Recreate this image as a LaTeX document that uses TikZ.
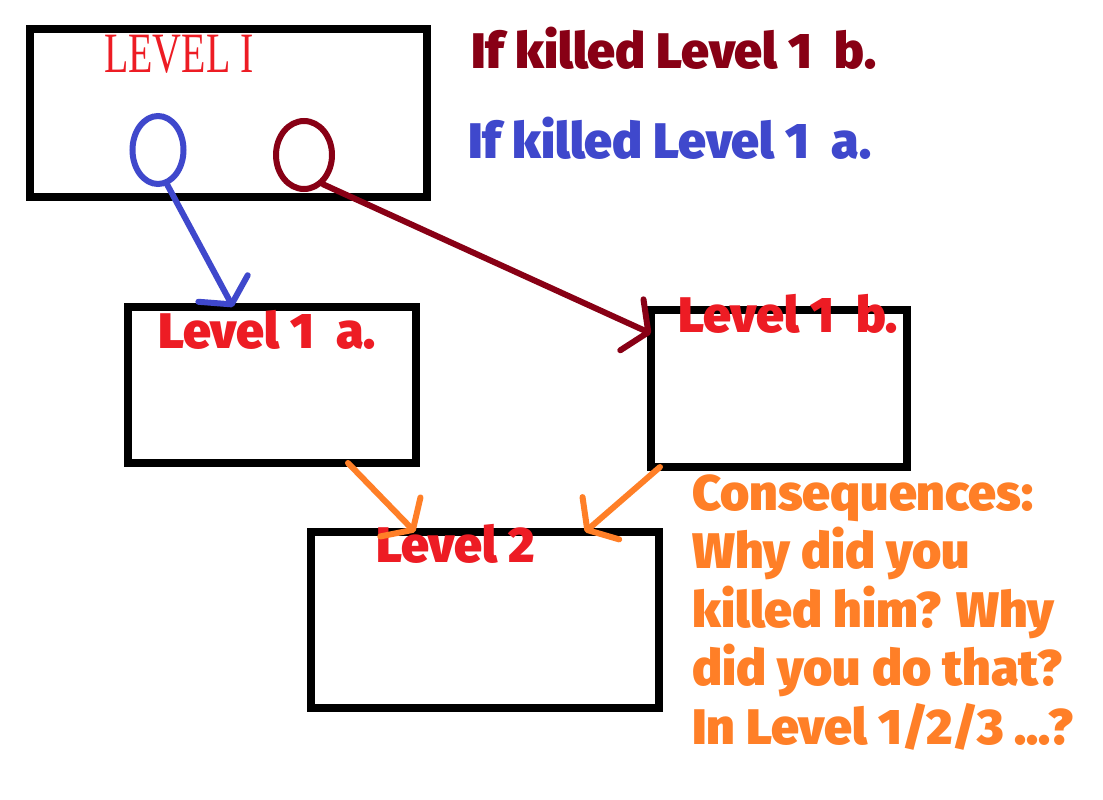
\documentclass[tikz,border=0pt]{standalone}
\usepackage{fontspec}
\setmainfont{Fira Sans}
\newfontfamily\heavy{Fira Sans Black}
\newfontfamily\thinserif{Liberation Serif}
\usetikzlibrary{shapes.geometric,arrows.meta}
\definecolor{paintred}{HTML}{ED1C24}
\definecolor{darkred}{HTML}{880015}
\definecolor{indigo}{HTML}{3F48CC}
\definecolor{paintorange}{HTML}{FF7F27}
\tikzset{
	box/.style 2 args={draw,line width=8pt,inner sep=0,outer sep=0,minimum width=#1,minimum height=#2},
	ring/.style 2 args={ellipse,draw,line width=6pt,inner sep=0,minimum width=#1,minimum height=#2},
	heavytext/.style={font=\heavy\fontsize{50}{58.5}\selectfont,anchor=base west,inner sep=0},
	arr/.style={line width=6pt,line cap=round,-{Straight Barb[length=18pt,width=56pt,round]}}
}
\begin{document}
\begin{tikzpicture}[x=1pt,y=-1pt]
	\path[fill=white](0,0)rectangle(1103,800);
	\node[box={397pt}{168pt}](l1) at (228.5,113){};
	\node[box={288pt}{156pt}](l1a) at (272,385){};
	\node[box={256pt}{157pt}](l1b) at (779,388.5){};
	\node[box={348pt}{176pt}](l2) at (485,620){};
	\node[ring={51pt}{68pt},indigo](oa) at (158,150){};
	\node[ring={56pt}{68pt},darkred](ob) at (304,155){};
	\node[anchor=base west,inner sep=0,text=paintred,xscale=.7,font=\thinserif\fontsize{57}{60}\selectfont](t1) at (104,73){LEVEL I};
	\node[heavytext,text=darkred](kb) at (471,69){If killed Level 1\ \ b.};
	\node[heavytext,text=indigo](ka) at (468,158){If killed Level 1\ \ a.};
	\node[heavytext,text=paintred](t1a) at (158,348){Level 1\ \ a.};
	\node[heavytext,text=paintred](t1b) at (678,332){Level 1\ \ b.};
	\node[heavytext,text=paintred](t2) at (376,562){Level 2};
	\node[heavytext,text=paintorange,anchor=north west,align=left](cons) at (692,474){Consequences:\\Why did you\\killed him? Why\\did you do that?\\In Level 1/2/3 ...?};
	\draw[arr,indigo](oa.-75)--([xshift=-39pt]l1a.north);
	\draw[arr,darkred](ob.-57)--([yshift=55pt]l1b.west);
	\draw[arr,paintorange]([xshift=76pt]l1a.south)--([xshift=-70pt]l2.north);
	\draw[arr,paintorange]([xshift=-119pt]l1b.south)--([xshift=100pt]l2.north);
\end{tikzpicture}
\end{document}
